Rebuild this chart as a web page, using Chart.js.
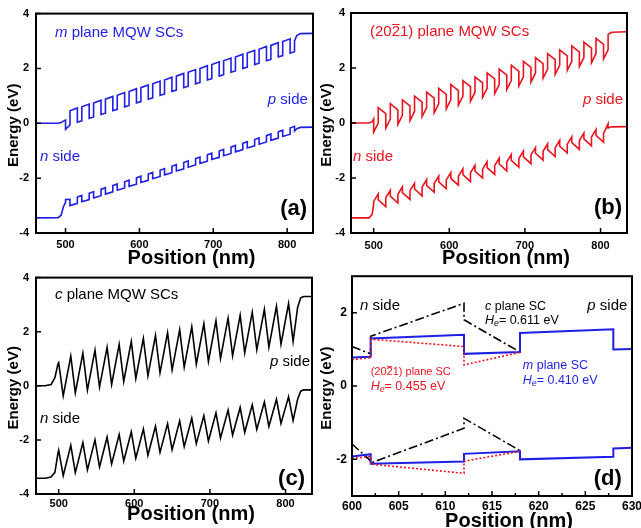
<!DOCTYPE html>
<html>
<head>
<meta charset="utf-8">
<script src="https://cdn.jsdelivr.net/npm/chart.js@4.4.1/dist/chart.umd.min.js"></script>
<style>
  html, body { margin: 0; padding: 0; background: #fff; overflow: hidden; }
  #fig { position: relative; width: 641px; height: 528px; overflow: hidden; background: #fff; }
  canvas { position: absolute; }
</style>
</head>
<body>
<div id="fig">
  <canvas id="panel-a" width="320" height="270" style="left:0;top:0"></canvas>
  <canvas id="panel-b" width="330" height="270" style="left:320px;top:0"></canvas>
  <canvas id="panel-c" width="320" height="264" style="left:0;top:264px"></canvas>
  <canvas id="panel-d" width="330" height="280" style="left:320px;top:264px"></canvas>
</div>
<script>
// Band diagrams of m, (20-21) and c plane MQW solar cells

const FONT = 'Arial, "Liberation Sans", sans-serif';
const BLUE = '#1f1fe6';
const RED = '#e8141e';
const BLACK = '#000000';

// layer interfaces of the 20 QW periods, shared by panels a-c
const wellEdges = [500, 500, 506, 506, 516, 516, 522, 522, 532, 532, 538, 538, 548, 548, 554, 554,
  564, 564, 570, 570, 580, 580, 586, 586, 596, 596, 602, 602, 612, 612, 618, 618,
  628, 628, 634, 634, 644, 644, 650, 650, 660, 660, 666, 666, 676, 676, 682, 682,
  692, 692, 698, 698, 708, 708, 714, 714, 724, 724, 730, 730, 740, 740, 746, 746,
  756, 756, 762, 762, 772, 772, 778, 778, 788, 788, 794, 794, 804, 804, 810, 810];

// (a) m plane
const mPosN = [460, 490, 494, 497];
const mPosP = [813, 818, 835];
const mCB = [0, 0, 0.03, 0.08,
  0.12, -0.22, -0.06, 0.46, 0.56, 0.04, 0.09, 0.60, 0.70, 0.18, 0.23, 0.74,
  0.84, 0.32, 0.37, 0.88, 0.98, 0.46, 0.51, 1.02, 1.12, 0.60, 0.65, 1.16,
  1.26, 0.74, 0.79, 1.30, 1.40, 0.88, 0.93, 1.44, 1.54, 1.02, 1.07, 1.58,
  1.68, 1.16, 1.21, 1.72, 1.82, 1.30, 1.35, 1.86, 1.96, 1.44, 1.49, 2.00,
  2.10, 1.58, 1.63, 2.14, 2.24, 1.72, 1.77, 2.28, 2.38, 1.86, 1.91, 2.42,
  2.52, 2.00, 2.05, 2.56, 2.66, 2.14, 2.19, 2.70, 2.80, 2.28, 2.33, 2.84,
  2.94, 2.42, 2.47, 2.98, 3.08, 2.56, 2.61, 3.00,
  3.20, 3.27, 3.28];
const mVB = [-3.45, -3.44, -3.35, -3.05,
  -2.88, -2.78, -2.77, -3.00, -2.92, -2.69, -2.63, -2.86, -2.78, -2.55, -2.49, -2.72,
  -2.64, -2.41, -2.35, -2.58, -2.50, -2.27, -2.21, -2.44, -2.36, -2.13, -2.07, -2.30,
  -2.22, -1.99, -1.93, -2.16, -2.08, -1.85, -1.79, -2.02, -1.94, -1.71, -1.65, -1.88,
  -1.80, -1.57, -1.51, -1.74, -1.66, -1.43, -1.37, -1.60, -1.52, -1.29, -1.23, -1.46,
  -1.38, -1.15, -1.09, -1.32, -1.24, -1.01, -0.95, -1.18, -1.10, -0.87, -0.81, -1.04,
  -0.96, -0.73, -0.67, -0.90, -0.82, -0.59, -0.53, -0.76, -0.68, -0.45, -0.39, -0.62,
  -0.54, -0.31, -0.25, -0.48, -0.40, -0.17, -0.11, -0.28,
  -0.20, -0.15, -0.14];

// (b) (20-21) plane
const sPosN = [470, 494, 498];
const sPosP = [815, 835];
const sCB = [0, 0, 0.05,
  0.15, -0.33, 0.00, 0.56, 0.34, -0.19, 0.14, 0.70, 0.48, -0.05, 0.28, 0.84,
  0.62, 0.09, 0.42, 0.98, 0.76, 0.23, 0.56, 1.12, 0.90, 0.37, 0.70, 1.26,
  1.04, 0.51, 0.84, 1.40, 1.18, 0.65, 0.98, 1.54, 1.32, 0.79, 1.12, 1.68,
  1.46, 0.93, 1.26, 1.82, 1.60, 1.07, 1.40, 1.96, 1.74, 1.21, 1.54, 2.10,
  1.88, 1.35, 1.68, 2.24, 2.02, 1.49, 1.82, 2.38, 2.16, 1.63, 1.96, 2.52,
  2.30, 1.77, 2.10, 2.66, 2.44, 1.91, 2.24, 2.80, 2.58, 2.05, 2.38, 2.94,
  2.72, 2.19, 2.52, 3.08, 2.86, 2.33, 2.66, 3.22,
  3.30, 3.32];
const sVB = [-3.45, -3.45, -3.32,
  -2.95, -2.85, -2.58, -2.79, -3.04, -2.72, -2.45, -2.66, -2.91, -2.59, -2.32, -2.53,
  -2.78, -2.46, -2.19, -2.40, -2.65, -2.33, -2.06, -2.27, -2.52, -2.20, -1.93, -2.14,
  -2.39, -2.07, -1.80, -2.01, -2.26, -1.94, -1.67, -1.88, -2.13, -1.81, -1.54, -1.75,
  -2.00, -1.68, -1.41, -1.62, -1.87, -1.55, -1.28, -1.49, -1.74, -1.42, -1.15, -1.36,
  -1.61, -1.29, -1.02, -1.23, -1.48, -1.16, -0.89, -1.10, -1.35, -1.03, -0.76, -0.97,
  -1.22, -0.90, -0.63, -0.84, -1.09, -0.77, -0.50, -0.71, -0.96, -0.64, -0.37, -0.58,
  -0.83, -0.51, -0.24, -0.45, -0.70, -0.38, -0.03, -0.18,
  -0.14, -0.13];

// (c) c plane
const cPosN = [470, 482, 490, 495, 499];
const cPosP = [816, 820, 824, 835];
const cCB = [0, 0, 0.05, 0.30, 0.80,
  0.85, 0.85, -0.37, -0.37, 1.10, 1.10, -0.26, -0.26, 1.21, 1.21, -0.16, -0.16,
  1.32, 1.32, -0.05, -0.05, 1.42, 1.42, 0.05, 0.05, 1.53, 1.53, 0.16, 0.16,
  1.64, 1.64, 0.27, 0.27, 1.75, 1.75, 0.37, 0.37, 1.86, 1.86, 0.48, 0.48,
  1.96, 1.96, 0.58, 0.58, 2.07, 2.07, 0.69, 0.69, 2.18, 2.18, 0.80, 0.80,
  2.29, 2.29, 0.90, 0.90, 2.40, 2.40, 1.01, 1.01, 2.50, 2.50, 1.11, 1.11,
  2.61, 2.61, 1.22, 1.22, 2.72, 2.72, 1.33, 1.33, 2.83, 2.83, 1.43, 1.43,
  2.94, 2.94, 1.54, 1.54, 3.04, 3.04, 1.64, 1.64,
  2.90, 3.25, 3.30, 3.30];
const cVB = [-3.42, -3.42, -3.37, -3.20, -2.50,
  -2.38, -2.38, -3.32, -3.32, -2.20, -2.20, -3.21, -3.21, -2.10, -2.10, -3.11, -3.11,
  -2.00, -2.00, -3.00, -3.00, -1.90, -1.90, -2.89, -2.89, -1.80, -1.80, -2.79, -2.79,
  -1.70, -1.70, -2.68, -2.68, -1.60, -1.60, -2.57, -2.57, -1.50, -1.50, -2.46, -2.46,
  -1.40, -1.40, -2.36, -2.36, -1.30, -1.30, -2.25, -2.25, -1.20, -1.20, -2.14, -2.14,
  -1.10, -1.10, -2.04, -2.04, -1.00, -1.00, -1.93, -1.93, -0.90, -0.90, -1.82, -1.82,
  -0.80, -0.80, -1.72, -1.72, -0.70, -0.70, -1.61, -1.61, -0.60, -0.60, -1.50, -1.50,
  -0.50, -0.50, -1.39, -1.39, -0.40, -0.40, -1.28, -1.28,
  -0.50, -0.20, -0.15, -0.15];

// (d) single period close-up
const dPosM = [600, 602, 602, 612, 612, 618, 618, 628, 628, 630];
const dMCB = [0.78, 0.80, 1.30, 1.40, 0.88, 0.93, 1.45, 1.55, 1.00, 1.01];
const dMVB = [-1.92, -1.86, -2.12, -2.06, -1.85, -1.78, -2.00, -1.93, -1.70, -1.68];
const dPosS = [600, 602, 602, 612, 612, 618];
const dSCB = [0.72, 0.78, 1.28, 1.08, 0.58, 0.92];
const dSVB = [-1.98, -1.92, -2.13, -2.38, -2.05, -1.78];
const dPosC = [600, 602, 602, 612, 612, 618];
const dCCB = [1.08, 0.88, 1.36, 2.26, 1.81, 0.93];
const dCVB = [-1.58, -2.04, -2.10, -1.15, -0.88, -1.76];

// ticks
const xTicksMain = [500, 600, 700, 800];
const yTicksMain = [-4, -2, 0, 2, 4];
const xTicksD = [600, 605, 610, 615, 620, 625, 630];
const xMinorD = [602.5, 607.5, 612.5, 617.5, 622.5, 627.5];
const yTicksD = [-2, 0, 2];

function pairs(xs, ys) {
  return xs.map((x, i) => ({ x: x, y: ys[i] }));
}

function line(points, color, width, dash) {
  return {
    data: points,
    showLine: true,
    borderColor: color,
    borderWidth: width,
    borderDash: dash || [],
    pointRadius: 0,
    fill: false,
    tension: 0,
  };
}

// text with italic / subscript / overlined pieces
function drawRich(ctx, segs, x, y, size, color, align) {
  const fontOf = (s) => (s.i ? 'italic ' : '') + (s.b ? 'bold ' : '') + (s.sub ? size * 0.7 : size) + 'px ' + FONT;
  let total = 0;
  segs.forEach(s => { ctx.font = fontOf(s); total += ctx.measureText(s.t).width; });
  let cx = align === 'right' ? x - total : x;
  ctx.fillStyle = color;
  ctx.strokeStyle = color;
  ctx.textAlign = 'left';
  ctx.textBaseline = 'middle';
  segs.forEach(s => {
    ctx.font = fontOf(s);
    const w = ctx.measureText(s.t).width;
    ctx.fillText(s.t, cx, s.sub ? y + size * 0.3 : y);
    if (s.over) {
      ctx.lineWidth = 1;
      ctx.beginPath();
      ctx.moveTo(cx + 0.5, y - size * 0.5);
      ctx.lineTo(cx + w - 0.5, y - size * 0.5);
      ctx.stroke();
    }
    cx += w;
  });
}

// frame, inward ticks, axis titles and notes
function deco(p) {
  return {
    id: 'deco',
    afterDatasetsDraw(chart) {
      const { ctx, chartArea: a, scales: { x, y } } = chart;
      ctx.save();
      ctx.strokeStyle = '#000';
      ctx.lineWidth = 1.5;
      ctx.beginPath();
      p.xTicks.forEach(v => {
        const px = x.getPixelForValue(v);
        ctx.moveTo(px, a.bottom);
        ctx.lineTo(px, a.bottom - 5);
      });
      (p.xMinor || []).forEach(v => {
        const px = x.getPixelForValue(v);
        ctx.moveTo(px, a.bottom);
        ctx.lineTo(px, a.bottom - 3);
      });
      p.yTicks.forEach(v => {
        const py = y.getPixelForValue(v);
        ctx.moveTo(a.left, py);
        ctx.lineTo(a.left + 5, py);
      });
      ctx.stroke();
      ctx.lineWidth = 2;
      ctx.strokeRect(a.left, a.top, a.right - a.left, a.bottom - a.top);

      ctx.fillStyle = '#000';
      ctx.textAlign = 'center';
      ctx.textBaseline = 'middle';
      ctx.font = 'bold 20px ' + FONT;
      ctx.fillText('Position (nm)', (a.left + a.right) / 2 + 17, a.bottom + p.xTitleDy);
      ctx.save();
      ctx.translate(p.yTitleX, (a.top + a.bottom) / 2 + 2);
      ctx.rotate(-Math.PI / 2);
      ctx.font = 'bold 15px ' + FONT;
      ctx.fillText('Energy (eV)', 0, 0);
      ctx.restore();

      p.notes.forEach(n => {
        drawRich(ctx, n.segs, x.getPixelForValue(n.x), y.getPixelForValue(n.y), n.size, n.color, n.align);
      });
      ctx.restore();
    }
  };
}

function panel(id, p) {
  const tickFont = { family: FONT, size: p.tickSize, weight: 'bold' };
  return new Chart(document.getElementById(id), {
    type: 'scatter',
    data: { datasets: p.datasets },
    options: {
      responsive: false,
      animation: false,
      devicePixelRatio: 1,
      layout: { padding: p.pad },
      plugins: { legend: { display: false }, tooltip: { enabled: false } },
      scales: {
        x: {
          type: 'linear',
          min: p.xMin,
          max: p.xMax,
          afterBuildTicks: (ax) => { ax.ticks = p.xTicks.map(v => ({ value: v })); },
          afterFit: (ax) => { ax.height = p.xH; },
          ticks: { padding: p.xPad, maxRotation: 0, autoSkip: false, color: '#000', font: tickFont, callback: (v) => String(v) },
          grid: { display: false, drawTicks: false },
          border: { display: false },
        },
        y: {
          type: 'linear',
          min: p.yMin,
          max: p.yMax,
          afterBuildTicks: (ax) => { ax.ticks = p.yTicks.map(v => ({ value: v })); },
          afterFit: (ax) => { ax.width = p.yW; },
          ticks: { padding: p.yPad, color: '#000', font: tickFont, callback: (v) => String(v) },
          grid: { display: false, drawTicks: false },
          border: { display: false },
        }
      }
    },
    plugins: [deco(p)]
  });
}

const it = (t) => ({ t: t, i: true });
const tx = (t) => ({ t: t });

document.addEventListener('DOMContentLoaded', () => {
  const mPos = [...mPosN, ...wellEdges, ...mPosP];
  const sPos = [...sPosN, ...wellEdges, ...sPosP];
  const cPos = [...cPosN, ...wellEdges, ...cPosP];

  panel('panel-a', {
    datasets: [line(pairs(mPos, mCB), BLUE, 1.6), line(pairs(mPos, mVB), BLUE, 1.6)],
    xMin: 460, xMax: 835, yMin: -4, yMax: 4,
    xTicks: xTicksMain, yTicks: yTicksMain, tickSize: 11,
    pad: { left: 0, top: 13, right: 7, bottom: 0 }, yW: 36, xH: 37, xPad: 5, yPad: 7,
    xTitleDy: 25, yTitleX: 14,
    notes: [
      { x: 485.7, y: 3.31, size: 15, color: BLUE, segs: [it('m'), tx(' plane MQW SCs')] },
      { x: 828, y: 0.84, size: 15, color: BLUE, align: 'right', segs: [it('p'), tx(' side')] },
      { x: 465.4, y: -1.24, size: 15, color: BLUE, segs: [it('n'), tx(' side')] },
      { x: 826.9, y: -3.13, size: 22, color: BLACK, align: 'right', segs: [{ t: '(a)', b: true }] },
    ]
  });

  panel('panel-b', {
    datasets: [line(pairs(sPos, sCB), RED, 1.6), line(pairs(sPos, sVB), RED, 1.6)],
    xMin: 470, xMax: 835, yMin: -4, yMax: 4,
    xTicks: xTicksMain, yTicks: yTicksMain, tickSize: 11,
    pad: { left: 0, top: 13, right: 23, bottom: 0 }, yW: 31, xH: 37, xPad: 6, yPad: 6,
    xTitleDy: 25, yTitleX: 7,
    notes: [
      { x: 495.1, y: 3.31, size: 15, color: RED, segs: [tx('(20'), { t: '2', over: true }, tx('1) plane MQW SCs')] },
      { x: 829.7, y: 0.84, size: 15, color: RED, align: 'right', segs: [it('p'), tx(' side')] },
      { x: 472.6, y: -1.24, size: 15, color: RED, segs: [it('n'), tx(' side')] },
      { x: 828.4, y: -3.09, size: 22, color: BLACK, align: 'right', segs: [{ t: '(b)', b: true }] },
    ]
  });

  panel('panel-c', {
    datasets: [line(pairs(cPos, cCB), BLACK, 1.6), line(pairs(cPos, cVB), BLACK, 1.6)],
    xMin: 470, xMax: 835, yMin: -4, yMax: 4,
    xTicks: xTicksMain, yTicks: yTicksMain, tickSize: 11,
    pad: { left: 0, top: 12, right: 8, bottom: 0 }, yW: 36, xH: 34, xPad: 3, yPad: 7,
    xTitleDy: 20, yTitleX: 14,
    notes: [
      { x: 495.1, y: 3.38, size: 15, color: BLACK, segs: [it('c'), tx(' plane MQW SCs')] },
      { x: 832.4, y: 0.88, size: 15, color: BLACK, align: 'right', segs: [it('p'), tx(' side')] },
      { x: 475.3, y: -1.21, size: 15, color: BLACK, segs: [it('n'), tx(' side')] },
      { x: 825.7, y: -3.45, size: 22, color: BLACK, align: 'right', segs: [{ t: '(c)', b: true }] },
    ]
  });

  panel('panel-d', {
    datasets: [
      line(pairs(dPosS, dSCB), RED, 1.6, [2, 2]),
      line(pairs(dPosS, dSVB), RED, 1.6, [2, 2]),
      line(pairs(dPosM, dMCB), BLUE, 2),
      line(pairs(dPosM, dMVB), BLUE, 2),
      line(pairs(dPosC, dCCB), BLACK, 1.6, [9, 3, 2, 3]),
      line(pairs(dPosC, dCVB), BLACK, 1.6, [9, 3, 2, 3]),
    ],
    xMin: 600, xMax: 630, yMin: -3, yMax: 3,
    xTicks: xTicksD, xMinor: xMinorD, yTicks: yTicksD, tickSize: 12,
    pad: { left: 0, top: 12, right: 18, bottom: 0 }, yW: 32, xH: 48, xPad: 3, yPad: 5,
    xTitleDy: 25, yTitleX: 7,
    notes: [
      { x: 600.86, y: 2.18, size: 15, color: BLACK, segs: [it('n'), tx(' side')] },
      { x: 629.5, y: 2.18, size: 15, color: BLACK, align: 'right', segs: [it('p'), tx(' side')] },
      { x: 614.25, y: 2.18, size: 12.5, color: BLACK, segs: [it('c'), tx(' plane SC')] },
      { x: 614.25, y: 1.80, size: 12.5, color: BLACK, segs: [it('H'), { t: 'e', i: true, sub: true }, tx('= 0.611 eV')] },
      { x: 602.0, y: 0.38, size: 11, color: RED, segs: [tx('(20'), { t: '2', over: true }, tx('1) plane SC')] },
      { x: 602.0, y: 0.0, size: 12.5, color: RED, segs: [it('H'), { t: 'e', i: true, sub: true }, tx('= 0.455 eV')] },
      { x: 618.3, y: 0.55, size: 12.5, color: BLUE, segs: [it('m'), tx(' plane SC')] },
      { x: 618.3, y: 0.16, size: 12.5, color: BLUE, segs: [it('H'), { t: 'e', i: true, sub: true }, tx('= 0.410 eV')] },
      { x: 628.9, y: -2.54, size: 22, color: BLACK, align: 'right', segs: [{ t: '(d)', b: true }] },
    ]
  });
});
</script>
</body>
</html>
